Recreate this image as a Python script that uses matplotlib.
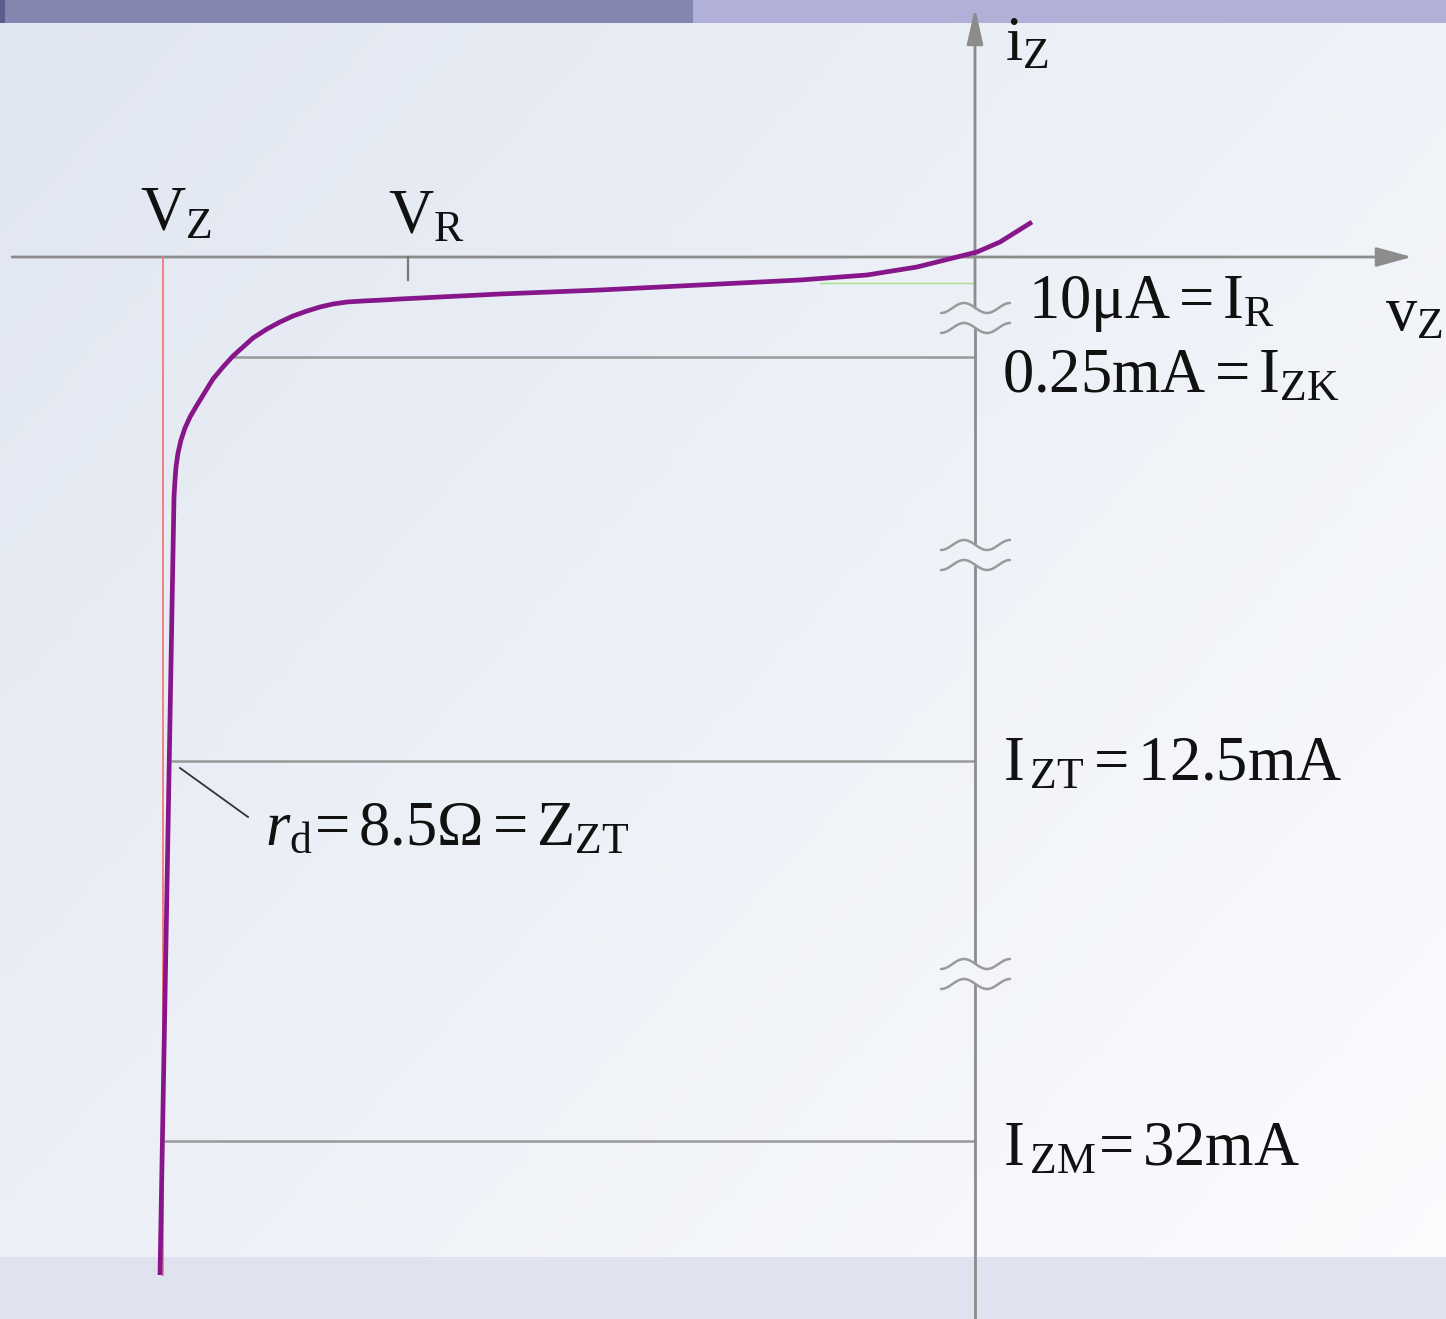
import matplotlib
matplotlib.use("Agg")
import matplotlib.pyplot as plt
import numpy as np

# zener characteristic, schematic units (origin where the axes cross, iz up)
curve_vz = [57, 25, 2, -58, -108, -175, -275, -375, -475, -575, -592, -612, -628,
            -642, -655, -668, -682, -695, -708, -722, -732, -742, -752, -762, -770,
            -778, -785, -790, -794, -797, -799, -800, -801, -815]
curve_iz = [35, 15, 5, -10, -18, -23, -28, -33, -37, -42, -43, -44, -45,
            -47, -50, -54, -59, -65, -72, -81, -90, -99, -110, -122, -135,
            -148, -160, -171, -183, -196, -210, -223, -240, -1018]

vz_z = -812           # V_Z
vz_r = -567           # V_R tick
iz_r = -26            # I_R level (thin green)
iz_levels = [-100, -504, -884]          # I_ZK, I_ZT, I_ZM
level_start = [-740, -803, -810]
break_centers = [-61, -298, -717]       # axis breaks on the iz axis

labels = [
    (-835, 27, r'$\mathrm{V_Z}$'),
    (-587, 24, r'$\mathrm{V_R}$'),
    (30, 197, r'$\mathrm{i_Z}$'),
    (410, -73, r'$\mathrm{v_Z}$'),
    (53, -61, r'$\mathrm{10μA = I_R}$'),
    (27, -135, r'$\mathrm{0.25mA = I_{ZK}}$'),
    (28, -523, r'$\mathrm{I_{\,ZT} = 12.5mA}$'),
    (-710, -588, r'$\mathit{r}_\mathrm{d}\!\mathrm{= 8.5Ω = Z_{ZT}}$'),
    (28, -908, r'$\mathrm{I_{\,ZM}\!= 32mA}$'),
]

plt.rcParams['mathtext.fontset'] = 'custom'
plt.rcParams['mathtext.rm'] = 'Liberation Serif'
plt.rcParams['mathtext.it'] = 'Liberation Serif:italic'
plt.rcParams['mathtext.bf'] = 'Liberation Serif:bold'
plt.rcParams['font.family'] = ['Liberation Serif', 'DejaVu Sans']

fig = plt.figure(figsize=(14.46, 13.19), dpi=100)
ax = fig.add_axes([0, 0, 1, 1])
ax.set_xlim(-975, 471)
ax.set_ylim(-1062, 257)
ax.axis('off')

# slide background: soft blue-grey gradient, lighter to the lower right
gx, gy = np.meshgrid(np.linspace(0, 1, 200), np.linspace(0, 1, 200))
t = np.clip(0.55 * gx + 0.45 * gy, 0, 1)
c0 = np.array([0.878, 0.902, 0.945])
c1 = np.array([0.985, 0.988, 0.995])
bg = c0[None, None, :] * (1 - t[..., None]) + c1[None, None, :] * t[..., None]
ax.imshow(bg, extent=(-975, 471, -1062, 257), origin='upper', aspect='auto', zorder=0)

# top and bottom bands of the slide
ax.fill_between([-975, -282], 234, 257, color='#8486b0', lw=0, zorder=1)
ax.fill_between([-975, -970], 234, 257, color='#5c5d8c', lw=0, zorder=1)
ax.fill_between([-282, 471], 234, 257, color='#b0b0d8', lw=0, zorder=1)
ax.fill_between([-975, 471], -1062, -1000, color='#dfe3ef', lw=0, zorder=1)

axis_col = '#8c8c8c'
ax.annotate('', xy=(437, 0), xytext=(-963, 0),
            arrowprops=dict(arrowstyle='-|>,head_length=1.1,head_width=0.3', mutation_scale=20,
                            color=axis_col, lw=2.0, shrinkA=0, shrinkB=0), zorder=3)

# current axis, broken at each ≈ mark
gap = 10
ax.annotate('', xy=(0, 249), xytext=(0, break_centers[0] + gap),
            arrowprops=dict(arrowstyle='-|>,head_length=1.1,head_width=0.25', mutation_scale=20,
                            color=axis_col, lw=2.0, shrinkA=0, shrinkB=0), zorder=3)
seg_ends = break_centers + [-1062]
for a, b in zip(seg_ends[:-1], seg_ends[1:]):
    lo = b + gap if b != -1062 else b
    ax.plot([0, 0], [a - gap, lo], color=axis_col, lw=2.0, zorder=3, solid_capstyle='butt')

tx = np.linspace(-34, 35, 60)
ph = np.linspace(-np.pi / 2, 2.5 * np.pi, 60)
for yc in break_centers:
    for off in (gap, -gap):
        ax.plot(tx, yc + off + 5 * np.sin(ph), color='#9a9a9a', lw=1.8, zorder=5,
                solid_capstyle='round')

# reference levels
for lv, x0 in zip(iz_levels, level_start):
    ax.plot([x0, 0], [lv, lv], color='#999999', lw=1.8, zorder=2)
ax.plot([-155, 0], [iz_r, iz_r], color='#a8e08a', lw=1.0, zorder=2)
ax.plot([vz_r, vz_r], [0, -23], color='#777777', lw=1.6, zorder=3)
ax.plot([vz_z, vz_z], [0, -1018], color='#f07a7a', lw=1.3, zorder=3)

# characteristic
ax.plot(curve_vz, curve_iz, color='#86168a', lw=3.4, solid_capstyle='butt',
        solid_joinstyle='round', zorder=6)

# leader to r_d
ax.plot([-795, -727], [-511, -560], color='#333333', lw=1.3, zorder=6)

for x, y, s in labels:
    ax.text(x, y, s, fontsize=45, ha='left', va='baseline', color='#111111', zorder=7)

fig.savefig('out.png', dpi=100)
